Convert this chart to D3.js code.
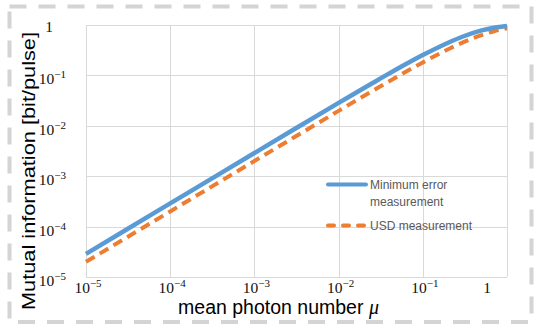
<!DOCTYPE html>
<html>
<head>
<meta charset="utf-8">
<script src="https://cdn.jsdelivr.net/npm/d3@7"></script>
<style>
  body { margin: 0; background: #fff; }
</style>
</head>
<body>
<svg id="chart" width="534" height="327"></svg>
<script>
// mean photon number (x) and mutual information
var mu = [1e-5, 3e-5, 1e-4, 3e-4, 1e-3, 3e-3, 0.01, 0.03, 0.05, 0.1, 0.2, 0.3, 0.5, 0.7, 1];
var minError = [2.885e-5, 8.66e-5, 2.885e-4, 8.65e-4, 2.88e-3, 8.62e-3, 0.0285, 0.0832, 0.135, 0.253, 0.445, 0.591, 0.781, 0.885, 0.958];
var usd = [2e-5, 6e-5, 2e-4, 6e-4, 2e-3, 5.98e-3, 0.0198, 0.0582, 0.0952, 0.181, 0.330, 0.451, 0.632, 0.753, 0.865];

var decades = [1e-5, 1e-4, 1e-3, 1e-2, 1e-1, 1];
var tickExp = ["\u22125", "\u22124", "\u22123", "\u22122", "\u22121", ""];

var seriesNames = ["Minimum error", "measurement", "USD measurement"];

var svg = d3.select("#chart"),
    margin = { left: 86, right: 27, top: 25, bottom: 50 },
    width = +svg.attr("width"),
    height = +svg.attr("height");

var x = d3.scaleLog().domain([1e-5, 1]).range([margin.left, width - margin.right]);
var y = d3.scaleLog().domain([1e-5, 1]).range([height - margin.bottom, margin.top]);

// dashed frame around the whole figure
svg.append("rect")
    .attr("x", 9.5).attr("y", 6.5)
    .attr("width", 522).attr("height", 315.5)
    .attr("fill", "none")
    .attr("stroke", "#d4d4d4")
    .attr("stroke-width", 4)
    .attr("stroke-dasharray", "17,12");

// grid
var grid = svg.append("g").attr("stroke", "#d9d9d9").attr("stroke-width", 1);
grid.selectAll(".gx").data(decades).enter().append("line")
    .attr("x1", function (d) { return Math.round(x(d)) + 0.5; })
    .attr("x2", function (d) { return Math.round(x(d)) + 0.5; })
    .attr("y1", y(1)).attr("y2", y(1e-5));
grid.selectAll(".gy").data(decades).enter().append("line")
    .attr("y1", function (d) { return Math.round(y(d)) + 0.5; })
    .attr("y2", function (d) { return Math.round(y(d)) + 0.5; })
    .attr("x1", x(1e-5)).attr("x2", x(1));

// tick labels
var tickFont = "'Liberation Serif', 'DejaVu Serif', serif";

var xl = svg.append("g").attr("font-family", tickFont).attr("fill", "#111");
xl.selectAll("text").data(decades).enter().append("text")
    .attr("x", function (d, i) { return d === 1 ? x(d) - 20 : x(d) + 2; })
    .attr("y", 293)
    .attr("text-anchor", "middle")
    .each(function (d, i) {
        var t = d3.select(this);
        if (d === 1) { t.append("tspan").attr("font-size", 15.5).text("1"); return; }
        t.append("tspan").attr("font-size", 15.5).text("10");
        t.append("tspan").attr("font-size", 11).attr("dy", -6).text(tickExp[i]);
    });

var yl = svg.append("g").attr("font-family", tickFont).attr("fill", "#111");
yl.selectAll("text").data(decades).enter().append("text")
    .attr("x", function (d) { return d === 1 ? 49 : 66; })
    .attr("y", function (d) { return d === 1 ? y(d) + 7 : y(d) + 9; })
    .attr("text-anchor", function (d) { return d === 1 ? "middle" : "end"; })
    .each(function (d, i) {
        var t = d3.select(this);
        if (d === 1) { t.append("tspan").attr("font-size", 15.5).text("1"); return; }
        t.append("tspan").attr("font-size", 15.5).text("10");
        t.append("tspan").attr("font-size", 11).attr("dy", -6).text(tickExp[i]);
    });

// axis titles
svg.append("text")
    .attr("transform", "translate(35,171) rotate(-90)")
    .attr("text-anchor", "middle")
    .attr("font-family", "'Liberation Sans', Arial, sans-serif")
    .attr("font-size", 19)
    .attr("textLength", 278)
    .attr("lengthAdjust", "spacingAndGlyphs")
    .attr("fill", "#000")
    .text("Mutual information [bit/pulse]");

var xt = svg.append("text")
    .attr("x", 278.5).attr("y", 314)
    .attr("text-anchor", "middle")
    .attr("font-family", "'Liberation Sans', Arial, sans-serif")
    .attr("font-size", 19.5)
    .attr("fill", "#000");
xt.append("tspan").text("mean photon number ");
xt.append("tspan").attr("font-family", tickFont).attr("font-style", "italic").attr("font-size", 20).text("\u03bc");

// curves
var line = d3.line()
    .x(function (d) { return x(d[0]); })
    .y(function (d) { return y(d[1]); })
    .curve(d3.curveMonotoneX);

svg.append("path")
    .datum(d3.zip(mu, usd))
    .attr("d", line)
    .attr("fill", "none")
    .attr("stroke", "#ed7d31")
    .attr("stroke-width", 4)
    .attr("stroke-dasharray", "10,6");

svg.append("path")
    .datum(d3.zip(mu, minError))
    .attr("d", line)
    .attr("fill", "none")
    .attr("stroke", "#5b9bd5")
    .attr("stroke-width", 4.5);

// legend
var lg = svg.append("g")
    .attr("font-family", "'Liberation Sans', Arial, sans-serif")
    .attr("font-size", 12)
    .attr("fill", "#595959");

lg.append("line").attr("x1", 328).attr("x2", 366).attr("y1", 184.5).attr("y2", 184.5)
    .attr("stroke", "#5b9bd5").attr("stroke-width", 4).attr("stroke-linecap", "round");
lg.append("line").attr("x1", 328).attr("x2", 366).attr("y1", 225.5).attr("y2", 225.5)
    .attr("stroke", "#ed7d31").attr("stroke-width", 4).attr("stroke-linecap", "round")
    .attr("stroke-dasharray", "6,9");

lg.append("text").attr("x", 370).attr("y", 188.5).text(seriesNames[0]);
lg.append("text").attr("x", 370).attr("y", 205.5).text(seriesNames[1]);
lg.append("text").attr("x", 370).attr("y", 229.5).text(seriesNames[2]);
</script>
</body>
</html>
